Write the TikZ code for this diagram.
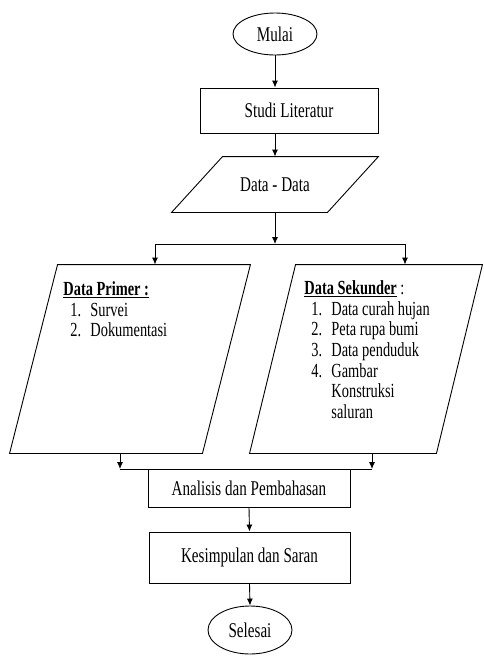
\documentclass[tikz,border=0pt]{standalone}
\usepackage{fontspec}
\setmainfont{Liberation Serif}[FakeStretch=0.72]
\usetikzlibrary{shapes.geometric,arrows.meta}

% numbered line and continued line of a list
\newcommand{\butir}[2]{\hspace*{7pt}\makebox[20pt][l]{#1}#2}
\newcommand{\lanjut}[1]{\hspace*{27pt}#1}
% parallelogram round the node #1, slanted by #2
\newcommand{\Jajar}[2]{
    \draw ([xshift=#2]#1.north west) -- (#1.north east)
    -- ([xshift=-#2]#1.south east) -- (#1.south west) -- cycle;
}

\begin{document}
\begin{tikzpicture}[x=1pt, y=-1pt, line width=0.9pt,
    kotak/.style={draw, rectangle, inner sep=0pt, font=\fontsize{21}{24}\selectfont},
    oval/.style={draw, ellipse, inner sep=0pt, minimum width=84pt, font=\fontsize{21}{24}\selectfont},
    jajar/.style={rectangle, inner sep=0pt, font=\fontsize{21}{24}\selectfont},
    daftar/.style={anchor=north west, align=left, inner sep=0pt, font=\fontsize{20}{20.7}\selectfont},
    panah/.style={-{Latex[length=7pt,width=6pt]}}]
    \useasboundingbox (0,0) rectangle (483,656);

    % start
    \node[oval, minimum height=42pt] (mulai) at (275,34) {Mulai};
    \node[kotak, minimum width=178pt, minimum height=45pt] (studi) at (289,110.5) {Studi Literatur};

    % data
    \node[jajar, minimum width=206pt, minimum height=55pt] (data) at (275,184.5) {Data - Data};
    \Jajar{data}{51pt}

    % primary and secondary data
    \node[jajar, minimum width=240pt, minimum height=188pt] (prim) at (130,359) {};
    \Jajar{prim}{48pt}
    \node[jajar, minimum width=232pt, minimum height=188pt] (sek) at (366,359) {};
    \Jajar{sek}{46pt}
    \node[daftar] (prim-isi) at (63,281) {\underline{\textbf{Data Primer :}}\\
        \butir{1.}{Survei}\\
        \butir{2.}{Dokumentasi}};
    \node[daftar] (sek-isi) at (304,280) {\underline{\textbf{Data Sekunder}} :\\
        \butir{1.}{Data curah hujan}\\
        \butir{2.}{Peta rupa bumi}\\
        \butir{3.}{Data penduduk}\\
        \butir{4.}{Gambar}\\
        \lanjut{Konstruksi}\\
        \lanjut{saluran}};

    % end
    \node[kotak, minimum width=202pt, minimum height=38pt] (analisis) at (249,488) {Analisis dan Pembahasan};
    \node[kotak, minimum width=201pt, minimum height=51pt] (simpul) at (249.5,557.5) {Kesimpulan dan Saran};
    \node[oval, minimum height=48pt] (selesai) at (250,630) {Selesai};

    % fork and join
    \coordinate (cabang) at (275,244);
    \coordinate (cabangL) at (155,244);
    \coordinate (cabangR) at (405,244);
    \coordinate (gabungL) at (120,469);
    \coordinate (gabungR) at (372,469);

    % arrows
    \draw[panah] (mulai.south) -- (mulai.south |- studi.north);
    \draw[panah] (mulai.south |- studi.south) -- (data.north);
    \draw[panah] (data.south) -- (cabang);
    \draw (cabangL) -- (cabangR);
    \draw[panah] (cabangL) -- (cabangL |- prim.north);
    \draw[panah] (cabangR) -- (cabangR |- sek.north);
    \draw[panah] (gabungL |- prim.south) -- (gabungL);
    \draw[panah] (gabungR |- sek.south) -- (gabungR);
    \draw (gabungL) -- (gabungR);
    \draw[panah] (analisis.south) -- (simpul.north);
    \draw[panah] (simpul.south) -- (selesai.north);
\end{tikzpicture}
\end{document}
